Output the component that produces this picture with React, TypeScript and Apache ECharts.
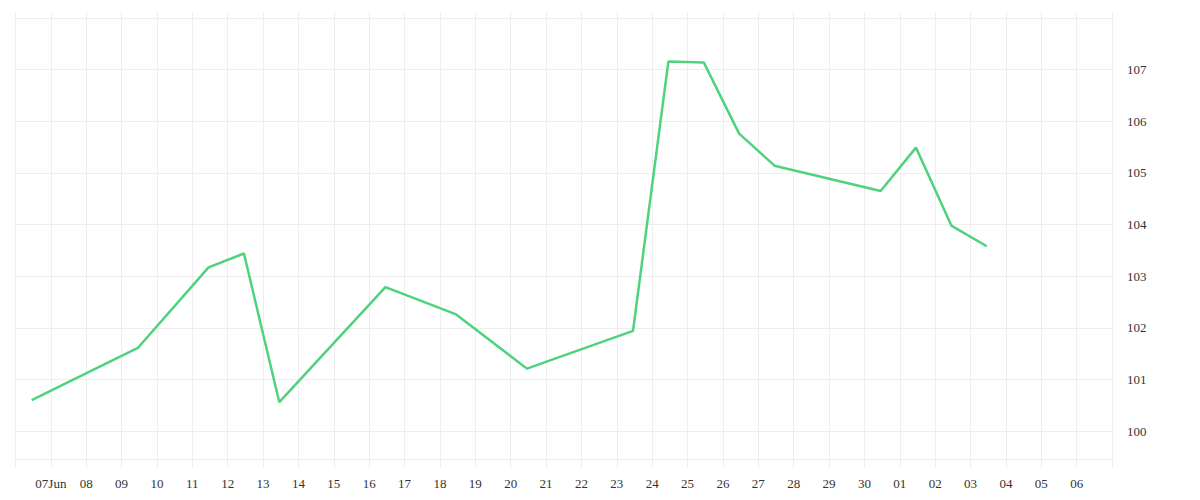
import React, { useEffect, useRef } from "react";
import * as echarts from "echarts";

// Tick labels at each day boundary (06 Jun 00:00 ... 07 Jul 00:00)
const tickLabels = [
  "", "07Jun", "08", "09", "10", "11", "12", "13", "14", "15", "16", "17", "18",
  "19", "20", "21", "22", "23", "24", "25", "26", "27", "28", "29", "30",
  "01", "02", "03", "04", "05", "06", "",
];

const startDate = "2024-06-06T00:00:00Z";

// Observation times
const pointDates = [
  "2024-06-06T11:00:00Z", "2024-06-09T11:00:00Z", "2024-06-11T11:00:00Z",
  "2024-06-12T11:00:00Z", "2024-06-13T11:00:00Z", "2024-06-16T11:00:00Z",
  "2024-06-18T11:00:00Z", "2024-06-20T11:00:00Z", "2024-06-23T11:00:00Z",
  "2024-06-24T11:00:00Z", "2024-06-25T11:00:00Z", "2024-06-26T11:00:00Z",
  "2024-06-27T11:00:00Z", "2024-06-30T11:00:00Z", "2024-07-01T11:00:00Z",
  "2024-07-02T11:00:00Z", "2024-07-03T11:00:00Z",
];

const values = [
  100.6, 101.61, 103.17, 103.44, 100.56, 102.79, 102.26, 101.21, 101.94,
  107.16, 107.14, 105.76, 105.14, 104.65, 105.49, 103.98, 103.58,
];

const yMin = 99.46;
const yMax = 108;

const DAY = 86400000;

export default function App() {
  const ref = useRef<HTMLDivElement>(null);

  useEffect(() => {
    if (!ref.current) return;
    const chart = echarts.init(ref.current, undefined, { renderer: "svg" });
    const t0 = Date.parse(startDate);
    const data = pointDates.map((d, i) => [(Date.parse(d) - t0) / DAY, values[i]]);
    const gridColor = "#eeeeee";
    const font = { fontFamily: "serif", fontSize: 13, color: "#333" };
    chart.setOption({
      animation: false,
      backgroundColor: "#ffffff",
      grid: { left: 15.5, right: 88, top: 18, bottom: 41, containLabel: false },
      xAxis: [
        {
          type: "value",
          position: "bottom",
          min: 0,
          max: tickLabels.length - 1,
          interval: 1,
          axisLine: { show: false },
          axisTick: { show: true, length: 9, lineStyle: { color: gridColor } },
          splitLine: { show: true, lineStyle: { color: gridColor, width: 1 } },
          axisLabel: {
            ...font,
            margin: 18,
            showMinLabel: true,
            showMaxLabel: true,
            formatter: (v: number) => tickLabels[Math.round(v)] ?? "",
          },
        },
        {
          type: "value",
          position: "top",
          min: 0,
          max: tickLabels.length - 1,
          interval: 1,
          axisLine: { show: false },
          axisTick: { show: true, length: 6, lineStyle: { color: gridColor } },
          splitLine: { show: false },
          axisLabel: { show: false },
        },
      ],
      yAxis: {
        type: "value",
        position: "right",
        min: yMin,
        max: yMax,
        splitNumber: 8,
        scale: true,
        axisLine: { show: false },
        axisTick: { show: false },
        splitLine: { show: true, lineStyle: { color: gridColor, width: 1 } },
        axisLabel: {
          ...font,
          margin: 15,
          showMinLabel: false,
          showMaxLabel: false,
        },
      },
      series: [
        {
          type: "line",
          xAxisIndex: 0,
          data,
          symbol: "none",
          lineStyle: { color: "#4fd27d", width: 2.5 },
        },
      ],
    });
    return () => chart.dispose();
  }, []);

  return (
    <div
      ref={ref}
      style={{ width: 1200, height: 500, position: "absolute", left: 0, top: 0 }}
    />
  );
}
